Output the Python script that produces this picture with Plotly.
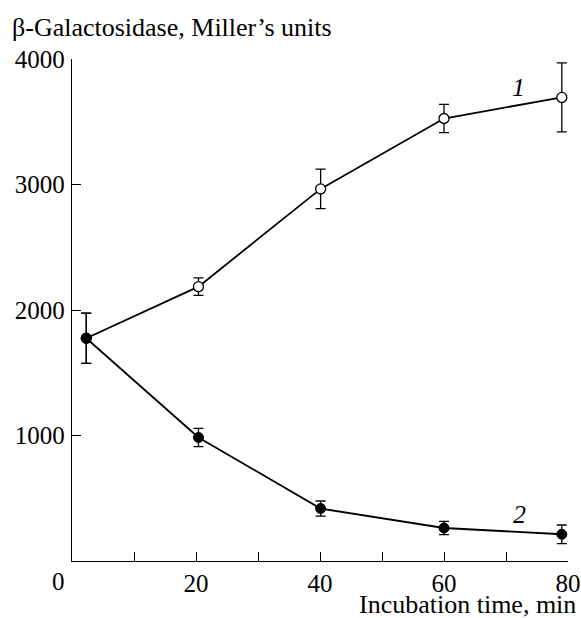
import plotly.graph_objects as go

time_min = [2.3, 20.4, 40.1, 60.0, 79.0]
series1 = [1775, 2186, 2965, 3526, 3694]
series1_err = [200, 70, 157, 113, 275]
series2 = [1775, 984, 418, 263, 213]
series2_err = [200, 73, 60, 53, 74]

x_tickvals = [10, 20, 30, 40, 50, 60, 70, 80]
x_ticktext = ["", "20", "", "40", "", "60", "", "80"]
y_tickvals = [1000, 2000, 3000, 4000]
y_ticktext = ["1000", "2000", "3000", "4000"]

FONT = "Liberation Serif, Times New Roman, serif"

fig = go.Figure()
fig.add_trace(go.Scatter(
    x=time_min, y=series1, mode="lines+markers",
    line=dict(color="black", width=1.8),
    marker=dict(symbol="circle", size=10, color="white", line=dict(color="black", width=1.3)),
    error_y=dict(type="data", array=series1_err, color="black", thickness=1.3, width=5),
    cliponaxis=False, showlegend=False,
))
fig.add_trace(go.Scatter(
    x=time_min, y=series2, mode="lines+markers",
    line=dict(color="black", width=1.8),
    marker=dict(symbol="circle", size=10, color="black", line=dict(color="black", width=1)),
    error_y=dict(type="data", array=series2_err, color="black", thickness=1.3, width=5),
    cliponaxis=False, showlegend=False,
))

axis_common = dict(
    showgrid=False, zeroline=False, showline=True, linecolor="black", linewidth=1.3,
    ticks="inside", ticklen=9, tickwidth=1.3, tickcolor="black", automargin=False,
    tickfont=dict(family=FONT, size=25, color="black"),
)
fig.update_xaxes(range=[0, 80], tickmode="array", tickvals=x_tickvals, ticktext=x_ticktext,
                 ticklabelstandoff=0, **axis_common)
fig.update_yaxes(range=[0, 4000], tickmode="array", tickvals=y_tickvals, ticktext=y_ticktext,
                 ticklabelstandoff=1, **axis_common)

ann_font = dict(family=FONT, size=26, color="black")
fig.update_layout(
    width=581, height=618,
    margin=dict(l=72, r=13, t=59, b=57, autoexpand=False),
    paper_bgcolor="white", plot_bgcolor="white",
    annotations=[
        dict(text="β-Galactosidase, Miller’s units", xref="paper", yref="paper",
             x=-0.124, y=1.0624, xanchor="left", yanchor="middle", showarrow=False, font=ann_font),
        dict(text="Incubation time, min", xref="paper", yref="paper",
             x=1.0202, y=-0.0864, xanchor="right", yanchor="middle", showarrow=False, font=ann_font),
        dict(text="0", xref="paper", yref="paper",
             x=-0.0276, y=-0.0399, xanchor="center", yanchor="middle", showarrow=False,
             font=dict(family=FONT, size=25, color="black")),
        dict(text="<i>1</i>", x=72, y=3773, xref="x", yref="y",
             showarrow=False, font=ann_font),
        dict(text="<i>2</i>", x=72.2, y=370, xref="x", yref="y",
             showarrow=False, font=ann_font),
    ],
)

fig.write_html("out.html", config={"displayModeBar": False},
               post_script="document.body.style.margin='0';document.body.style.overflow='hidden';")
